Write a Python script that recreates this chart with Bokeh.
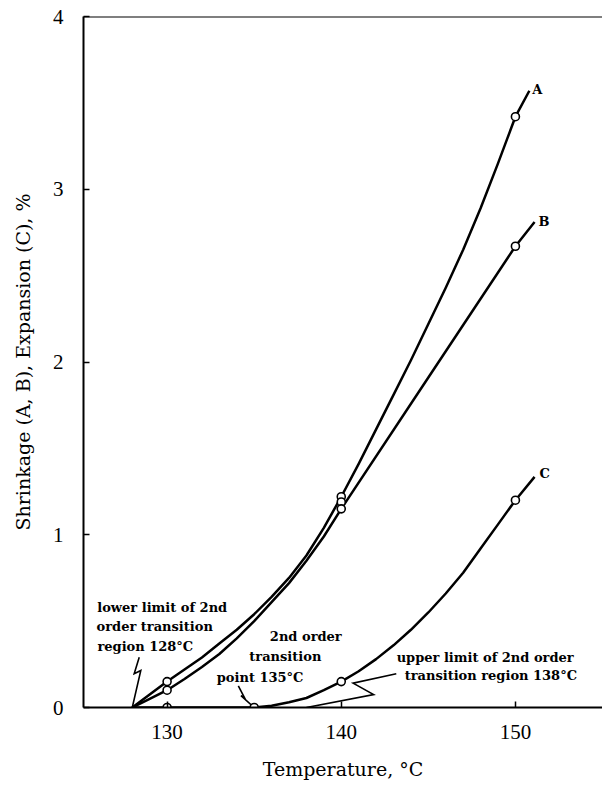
from bokeh.plotting import figure
from bokeh.models import Range1d, FixedTicker, Span
from bokeh.core.properties import value
from bokeh.embed import file_html
from bokeh.resources import INLINE

SERIF = "Liberation Serif"
WIDE = "DejaVu Serif"

# Measured points (temperature in degC, percent)
meas_t_a = [130, 140, 150]
meas_a = [0.15, 1.22, 3.42]
meas_t_b = [130, 140, 140, 150]
meas_b = [0.10, 1.19, 1.15, 2.67]
meas_t_c = [130, 135, 140, 150]
meas_c = [0.0, 0.0, 0.15, 1.20]

# Fitted curves as drawn
curve_t_a = [128, 129, 130, 131, 132, 133, 134, 135, 136, 137, 138, 139, 140,
             141, 142, 143, 144, 145, 146, 147, 148, 149, 150, 150.8]
curve_a = [0.0, 0.075, 0.15, 0.22, 0.29, 0.37, 0.45, 0.54, 0.64, 0.75, 0.88, 1.04, 1.22,
           1.41, 1.61, 1.81, 2.01, 2.22, 2.43, 2.65, 2.89, 3.15, 3.42, 3.57]
curve_t_b = [128, 129, 130, 131, 132, 133, 134, 135, 136, 137, 138, 139, 140, 145, 150, 151.1]
curve_b = [0.0, 0.05, 0.10, 0.165, 0.235, 0.31, 0.40, 0.50, 0.61, 0.72, 0.85, 0.99, 1.15,
           1.91, 2.67, 2.81]
curve_t_c = [128, 135, 136, 137, 138, 139, 140, 141, 142, 143, 144, 145, 146, 147, 148,
             149, 150, 151.1]
curve_c = [0.0, 0.0, 0.01, 0.03, 0.055, 0.10, 0.15, 0.21, 0.28, 0.36, 0.45, 0.55, 0.66,
           0.78, 0.92, 1.06, 1.20, 1.335]

x_ticks = [130, 140, 150]
y_ticks = [0, 1, 2, 3, 4]

# Pointer lines for the three transition notes
ptr_low_t = [128.40, 128.11, 128.49, 128.0]
ptr_low_v = [0.291, 0.195, 0.214, 0.0]
ptr_mid_t = [134.09, 134.47, 134.24, 135.0]
ptr_mid_v = [0.125, 0.052, 0.069, 0.0]
ptr_up_t = [143.16, 140.68, 141.86, 138.0]
ptr_up_v = [0.195, 0.141, 0.075, 0.0]

p = figure(width=602, height=787, output_backend="svg", toolbar_location=None,
           x_range=Range1d(125.2, 155.0), y_range=Range1d(0, 4),
           min_border_left=83, min_border_right=0, min_border_top=16,
           min_border_bottom=80)
p.outline_line_color = None
p.grid.visible = False
p.background_fill_color = "white"
p.border_fill_color = "white"

for ax in (p.xaxis[0], p.yaxis[0]):
    ax.axis_line_width = 2
    ax.axis_line_color = "black"
    ax.major_tick_in = 6
    ax.major_tick_out = 0
    ax.major_tick_line_width = 1.5
    ax.minor_tick_line_color = None
    ax.major_label_text_font = SERIF
    ax.major_label_text_font_size = "21px"
    ax.major_label_text_color = "black"
    ax.axis_label_text_font = WIDE
    ax.axis_label_text_font_style = "normal"
    ax.axis_label_text_font_size = "19px"
    ax.axis_label_text_color = "black"

p.xaxis.ticker = FixedTicker(ticks=x_ticks)
p.yaxis.ticker = FixedTicker(ticks=y_ticks)
p.xaxis.major_label_standoff = 17
p.yaxis.major_label_standoff = 20
p.xaxis.axis_label = "Temperature, °C"
p.yaxis.axis_label = "Shrinkage (A, B), Expansion (C), %"
p.xaxis.axis_label_standoff = 16
p.yaxis.axis_label_standoff = 16

# top border of the frame
p.add_layout(Span(location=4, dimension="width", line_color="black", line_width=2))

# curves
for t, v in ((curve_t_a, curve_a), (curve_t_b, curve_b), (curve_t_c, curve_c)):
    p.line(t, v, line_color="black", line_width=2.5, line_join="round")

# pointers
for t, v in ((ptr_low_t, ptr_low_v), (ptr_mid_t, ptr_mid_v), (ptr_up_t, ptr_up_v)):
    p.line(t, v, line_color="black", line_width=1.6, line_join="miter")

# measured points
for t, v in ((meas_t_a, meas_a), (meas_t_b, meas_b), (meas_t_c, meas_c)):
    p.scatter(t, v, marker="circle", size=8, fill_color="white",
              line_color="black", line_width=1.6)

# curve labels
p.text([150.97, 151.32, 151.38], [3.576, 2.815, 1.353], text=["A", "B", "C"],
       text_font=value(WIDE), text_font_style="bold", text_font_size="13px",
       text_baseline="middle", text_align="left", text_color="black")

# notes
note_x = [125.99, 125.95, 126.0, 135.90, 134.72, 132.85, 143.18, 143.64]
note_y = [0.579, 0.469, 0.355, 0.411, 0.295, 0.175, 0.289, 0.185]
note_txt = ["lower limit of 2nd", "order transition", "region  128°C",
            "2nd order", "transition", "point  135°C",
            "upper limit of 2nd order", "transition region 138°C"]
p.text(note_x, note_y, text=note_txt, text_font=value(WIDE),
       text_font_style="bold", text_font_size="13px",
       text_baseline="middle", text_align="left", text_color="black")

open("out.html", "w").write(file_html(p, INLINE))
